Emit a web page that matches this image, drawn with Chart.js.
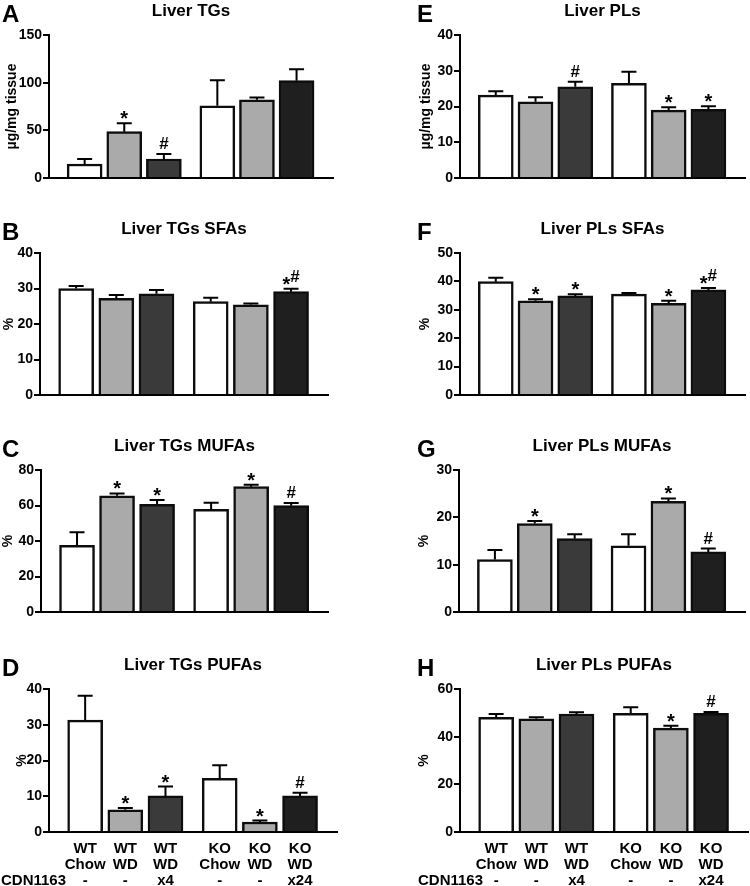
<!DOCTYPE html>
<html>
<head>
<meta charset="utf-8">
<title>Liver lipids</title>
<script src="https://cdn.jsdelivr.net/npm/chart.js@4.4.0/dist/chart.umd.min.js"></script>
<style>
  body { margin: 0; background: #fff; }
  #fig { position: relative; width: 750px; height: 886px; overflow: hidden; }
  #fig canvas { position: absolute; }
</style>
</head>
<body>
<div id="fig"></div>
<script>
// group labels under the bars
const genotype = ['WT', 'WT', 'WT', 'KO', 'KO', 'KO'];
const diet = ['Chow', 'WD', 'WD', 'Chow', 'WD', 'WD'];
const cdn1163 = ['-', '-', 'x4', '-', '-', 'x24'];

// A - Liver TGs (ug/mg tissue)
const tgMean = [14.7, 48.6, 19.9, 75.8, 82.1, 102.1];
const tgErr = [5.2, 8.8, 5.2, 26.7, 2.3, 11.9];
const tgSig = ['', '*', '#', '', '', ''];
// B - Liver TGs SFAs (%)
const tgSfaMean = [30.0, 27.2, 28.5, 26.3, 25.4, 29.1];
const tgSfaErr = [0.7, 1.0, 1.1, 1.1, 0.4, 0.8];
const tgSfaSig = ['', '', '', '', '', '*#'];
// C - Liver TGs MUFAs (%)
const tgMufaMean = [37.6, 65.5, 60.7, 57.9, 70.6, 59.9];
const tgMufaErr = [7.3, 1.3, 2.4, 3.7, 1.1, 1.5];
const tgMufaSig = ['', '*', '*', '', '*', '#'];
// D - Liver TGs PUFAs (%)
const tgPufaMean = [31.3, 6.2, 10.1, 15.0, 2.8, 10.1];
const tgPufaErr = [6.8, 0.5, 2.6, 3.7, 0.4, 0.9];
const tgPufaSig = ['', '*', '*', '', '*', '#'];
// E - Liver PLs (ug/mg tissue)
const plMean = [23.2, 21.3, 25.5, 26.5, 19.0, 19.2];
const plErr = [1.1, 1.3, 1.4, 3.2, 0.8, 0.9];
const plSig = ['', '', '#', '', '*', '*'];
// F - Liver PLs SFAs (%)
const plSfaMean = [39.9, 33.2, 34.9, 35.5, 32.3, 37.0];
const plSfaErr = [1.4, 0.5, 0.6, 0.4, 0.9, 0.7];
const plSfaSig = ['', '*', '*', '', '*', '*#'];
// G - Liver PLs MUFAs (%)
const plMufaMean = [11.1, 18.7, 15.5, 14.0, 23.4, 12.7];
const plMufaErr = [2.0, 0.5, 0.9, 2.4, 0.6, 0.7];
const plMufaSig = ['', '*', '', '', '*', '#'];
// H - Liver PLs PUFAs (%)
const plPufaMean = [48.1, 47.5, 49.5, 49.8, 43.6, 49.8];
const plPufaErr = [1.4, 0.6, 0.7, 2.5, 1.0, 0.6];
const plPufaSig = ['', '', '', '', '*', '#'];

const FONT = '"Liberation Sans", Arial, sans-serif';
Chart.defaults.font.family = FONT;
Chart.defaults.font.weight = 'bold';
Chart.defaults.color = '#000';

const barFill = ['#ffffff', '#aaaaaa', '#3a3a3a', '#ffffff', '#aaaaaa', '#1f1f1f'];
const GROUP_GAP = 0.35;   // extra space between WT and KO groups
const xPos = genotype.map((g, i) => i + (i >= 3 ? GROUP_GAP : 0));

const panels = [
  {letter: 'A', title: 'Liver TGs', yTitle: 'µg/mg tissue', max: 150, step: 50, mean: tgMean, err: tgErr, sig: tgSig,
   col: 0, top: 0, h: 200, padT: 35, padB: 20, padR: 42, axisW: 49, yTitlePad: 4},
  {letter: 'B', title: 'Liver TGs SFAs', yTitle: '%', max: 40, step: 10, mean: tgSfaMean, err: tgSfaErr, sig: tgSfaSig,
   col: 0, top: 200, h: 210, padT: 53, padB: 13, padR: 47, axisW: 40, yTitlePad: 1},
  {letter: 'C', title: 'Liver TGs MUFAs', yTitle: '%', max: 80, step: 20, mean: tgMufaMean, err: tgMufaErr, sig: tgMufaSig,
   col: 0, top: 420, h: 215, padT: 50, padB: 21, padR: 47, axisW: 41, yTitlePad: 0},
  {letter: 'D', title: 'Liver TGs PUFAs', yTitle: '%', max: 40, step: 10, mean: tgPufaMean, err: tgPufaErr, sig: tgPufaSig,
   col: 0, top: 640, h: 246, padT: 49, padB: 0, padR: 38, axisW: 49, yTitlePad: 14, labels: true},
  {letter: 'E', title: 'Liver PLs', yTitle: 'µg/mg tissue', max: 40, step: 10, mean: plMean, err: plErr, sig: plSig,
   col: 375, top: 0, h: 200, padT: 35, padB: 20, padR: 5, axisW: 85, yTitlePad: 43},
  {letter: 'F', title: 'Liver PLs SFAs', yTitle: '%', max: 50, step: 10, mean: plSfaMean, err: plSfaErr, sig: plSfaSig,
   col: 375, top: 200, h: 210, padT: 53, padB: 13, padR: 5, axisW: 85, yTitlePad: 42},
  {letter: 'G', title: 'Liver PLs MUFAs', yTitle: '%', max: 30, step: 10, mean: plMufaMean, err: plMufaErr, sig: plMufaSig,
   col: 375, top: 420, h: 215, padT: 50, padB: 21, padR: 5, axisW: 84, yTitlePad: 41},
  {letter: 'H', title: 'Liver PLs PUFAs', yTitle: '%', max: 60, step: 20, mean: plPufaMean, err: plPufaErr, sig: plPufaSig,
   col: 375, top: 640, h: 246, padT: 49, padB: 0, padR: 2, axisW: 85, yTitlePad: 41, labels: true},
];

// error bars, significance marks, title, panel letter
function decor(p) {
  return {
    id: 'decor' + p.letter,
    afterDatasetsDraw(chart) {
      const ctx = chart.ctx, y = chart.scales.y;
      ctx.save();
      ctx.strokeStyle = '#000';
      ctx.lineWidth = 2;
      chart.getDatasetMeta(0).data.forEach((bar, i) => {
        const top = y.getPixelForValue(p.mean[i] + p.err[i]);
        ctx.beginPath();
        ctx.moveTo(bar.x, bar.y);
        ctx.lineTo(bar.x, top);
        ctx.moveTo(bar.x - 7.5, top);
        ctx.lineTo(bar.x + 7.5, top);
        ctx.stroke();

        // asterisk drawn larger, hash raised when paired
        const marks = p.sig[i].split('');
        if (!marks.length) return;
        ctx.fillStyle = '#000';
        ctx.textAlign = 'left';
        ctx.textBaseline = 'alphabetic';
        const fontFor = m => 'bold ' + (m === '*' ? 20 : 17) + 'px ' + FONT;
        const total = marks.reduce((s, m) => { ctx.font = fontFor(m); return s + ctx.measureText(m).width; }, 0);
        let x = bar.x - total / 2;
        marks.forEach(m => {
          ctx.font = fontFor(m);
          const yy = m === '*' ? top + 2 : top - 5 - (marks.length > 1 ? 2 : 0);
          ctx.fillText(m, x, yy);
          x += ctx.measureText(m).width;
        });
      });
      ctx.restore();
    },
    afterDraw(chart) {
      const ctx = chart.ctx, a = chart.chartArea;
      ctx.save();
      ctx.fillStyle = '#000';
      ctx.font = 'bold 17px ' + FONT;
      ctx.textAlign = 'center';
      ctx.textBaseline = 'middle';
      ctx.fillText(p.title, (a.left + a.right) / 2, a.top - 24);
      ctx.font = 'bold 24px ' + FONT;
      ctx.textAlign = 'left';
      ctx.textBaseline = 'alphabetic';
      ctx.fillText(p.letter, p.col ? 42 : 2, a.top - 13);
      if (p.labels) {
        ctx.font = 'bold 15px ' + FONT;
        ctx.textBaseline = 'middle';
        ctx.fillText('CDN1163', p.col ? 43 : 1, a.bottom + 9 + 16 * 2.5);
      }
      ctx.restore();
    }
  };
}

const fig = document.getElementById('fig');
panels.forEach(p => {
  const cv = document.createElement('canvas');
  cv.width = 375;
  cv.height = p.h;
  cv.style.left = p.col + 'px';
  cv.style.top = p.top + 'px';
  fig.appendChild(cv);

  new Chart(cv, {
    type: 'bar',
    data: {
      datasets: [{
        data: p.mean.map((v, i) => ({x: xPos[i], y: v})),
        backgroundColor: barFill,
        borderColor: '#0d0d0d',
        borderWidth: 2.5,
        barThickness: 35
      }]
    },
    options: {
      responsive: false,
      animation: false,
      devicePixelRatio: 1,
      layout: {padding: {top: p.padT, right: p.padR, bottom: p.padB, left: 0}},
      plugins: {legend: {display: false}, tooltip: {enabled: false}},
      scales: {
        x: {
          type: 'linear',
          offset: false,
          min: -0.9,
          max: 6.27,
          grid: {display: false, drawTicks: false},
          border: {color: '#000', width: 2},
          afterBuildTicks: s => { s.ticks = xPos.map(v => ({value: v})); },
          afterFit: s => { s.height = p.labels ? 54 : 2; },
          ticks: {
            display: !!p.labels,
            autoSkip: false,
            maxRotation: 0,
            padding: 9,
            font: {size: 15, lineHeight: 16 / 15},
            callback: (v, i) => [genotype[i], diet[i], cdn1163[i]]
          }
        },
        y: {
          min: 0,
          max: p.max,
          afterFit: s => { s.width = p.axisW; },
          grid: {drawOnChartArea: false, color: '#000', lineWidth: 2, tickLength: 6},
          border: {color: '#000', width: 2},
          ticks: {stepSize: p.step, padding: 1, font: {size: 14}},
          title: {display: true, text: p.yTitle, font: {size: 14}, padding: {top: p.yTitlePad, bottom: 0}}
        }
      }
    },
    plugins: [decor(p)]
  });
});
</script>
</body>
</html>
